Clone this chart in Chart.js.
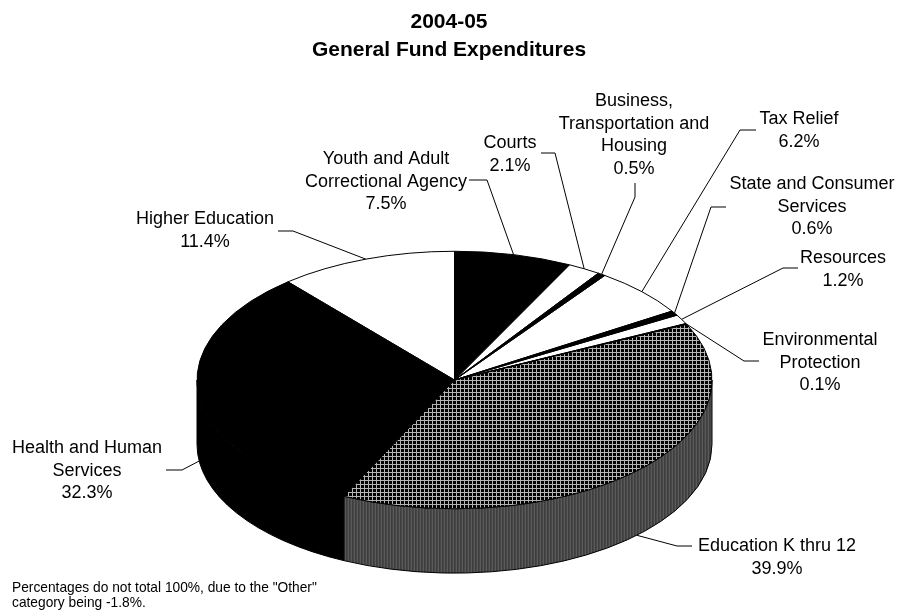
<!DOCTYPE html>
<html>
<head>
<meta charset="utf-8">
<title>2004-05 General Fund Expenditures</title>
<script src="https://cdn.jsdelivr.net/npm/chart.js@4.4.1/dist/chart.umd.min.js"></script>
<style>
  html, body { margin: 0; padding: 0; background: #ffffff; }
  canvas { display: block; }
</style>
</head>
<body>
<canvas id="expenditureChart" width="898" height="612"></canvas>
<script>
const titleLines = ['2004-05', 'General Fund Expenditures'];

const categories = [
    'Youth and Adult\nCorrectional Agency',
    'Courts',
    'Business,\nTransportation and\nHousing',
    'Tax Relief',
    'State and Consumer\nServices',
    'Resources',
    'Environmental\nProtection',
    'Education K thru 12',
    'Health and Human\nServices',
    'Higher Education'
];
const shares = [7.5, 2.1, 0.5, 6.2, 0.6, 1.2, 0.1, 39.9, 32.3, 11.4];
const otherShare = -1.8;

const footnote = [
    'Percentages do not total 100%, due to the "Other"',
    'category being ' + otherShare.toFixed(1) + '%.'
];

// where each label sits: text centre x, first baseline, then leader start and elbow
const labelSpots = [
    { x: 386, y: 164, from: [469, 180], elbow: [487, 180] },
    { x: 510, y: 148, from: [541, 153], elbow: [555, 153] },
    { x: 634, y: 106, from: [635, 183], elbow: [635, 197] },
    { x: 799, y: 124, from: [756, 130], elbow: [740, 130] },
    { x: 812, y: 189, from: [726, 207], elbow: [711, 207] },
    { x: 843, y: 263, from: [798, 268], elbow: [783, 268] },
    { x: 820, y: 345, from: [759, 361], elbow: [744, 361] },
    { x: 777, y: 551, from: [692, 546], elbow: [677, 546] },
    { x: 87, y: 453, from: [166, 470], elbow: [182, 470] },
    { x: 205, y: 224, from: [278, 231], elbow: [293, 231] }
];

const FONT = '"Liberation Sans", Arial, sans-serif';
const TILT = 0.5;          // vertical squash of the pie top
const DEPTH = 0.25;        // wall height as a share of the radius
const LINE = 22.5;

function makePattern(w, h, paint) {
    const tile = document.createElement('canvas');
    tile.width = w;
    tile.height = h;
    paint(tile.getContext('2d'));
    return tile.getContext('2d').createPattern(tile, 'repeat');
}

// crosshatch for the K-12 top, vertical stripes for its wall
const hatch = makePattern(4, 4, g => {
    g.fillStyle = '#000000';
    g.fillRect(0, 0, 4, 4);
    g.fillStyle = '#b4b4b4';
    g.fillRect(0, 0, 4, 1);
    g.fillRect(0, 0, 1, 4);
});
const stripes = makePattern(3, 1, g => {
    g.fillStyle = '#5a5a5a'; g.fillRect(0, 0, 1, 1);
    g.fillStyle = '#3e3e3e'; g.fillRect(1, 0, 1, 1);
    g.fillStyle = '#474747'; g.fillRect(2, 0, 1, 1);
});

const sliceFill = ['#000000', '#ffffff', '#000000', '#ffffff', '#000000',
    '#ffffff', '#000000', hatch, '#000000', '#ffffff'];
const wallFill = sliceFill.map(f => f === hatch ? stripes : f);

function pieGeometry(chart) {
    const arcs = chart.getDatasetMeta(0).data;
    const { x, y, outerRadius } = arcs[0].getProps(['x', 'y', 'outerRadius'], true);
    return { arcs, cx: x, cy: y, rx: outerRadius, ry: outerRadius * TILT, depth: outerRadius * DEPTH };
}

const pie3d = {
    id: 'pie3d',
    beforeDatasetsDraw(chart) {
        const ctx = chart.ctx;
        const { arcs, cx, cy, rx, ry, depth } = pieGeometry(chart);

        // front walls, only the part facing the viewer (0..PI)
        ctx.save();
        ctx.lineWidth = 1;
        ctx.strokeStyle = '#000000';
        arcs.forEach((arc, i) => {
            const { startAngle, endAngle } = arc.getProps(['startAngle', 'endAngle'], true);
            const a = Math.max(startAngle, 0);
            const b = Math.min(endAngle, Math.PI);
            if (a >= b) return;
            ctx.beginPath();
            ctx.ellipse(cx, cy, rx, ry, 0, a, b);
            ctx.ellipse(cx, cy + depth, rx, ry, 0, b, a, true);
            ctx.closePath();
            ctx.fillStyle = wallFill[i];
            ctx.fill();
            ctx.stroke();
        });
        ctx.restore();

        // squash the library's own arcs into the tilted top
        ctx.save();
        ctx.translate(cx, cy);
        ctx.scale(1, TILT);
        ctx.translate(-cx, -cy);
        hatch.setTransform(ctx.getTransform().invertSelf());
    },
    afterDatasetsDraw(chart) {
        const ctx = chart.ctx;
        ctx.restore();
        const { arcs, cx, cy, rx, ry } = pieGeometry(chart);
        ctx.save();
        ctx.lineWidth = 1;
        ctx.strokeStyle = '#000000';
        ctx.lineJoin = 'round';
        arcs.forEach(arc => {
            const { startAngle, endAngle } = arc.getProps(['startAngle', 'endAngle'], true);
            ctx.beginPath();
            ctx.moveTo(cx, cy);
            ctx.ellipse(cx, cy, rx, ry, 0, startAngle, endAngle);
            ctx.closePath();
            ctx.stroke();
        });
        ctx.restore();
    }
};

const sliceLabels = {
    id: 'sliceLabels',
    afterDraw(chart) {
        const ctx = chart.ctx;
        const { arcs, cx, cy, rx, ry, depth } = pieGeometry(chart);
        ctx.save();
        ctx.fillStyle = '#000000';
        ctx.strokeStyle = '#000000';
        ctx.lineWidth = 1;
        ctx.textAlign = 'center';
        ctx.textBaseline = 'alphabetic';

        ctx.font = 'bold 21px ' + FONT;
        ctx.fillText(titleLines[0], 449, 28);
        ctx.fillText(titleLines[1], 449, 56);

        ctx.font = '18px ' + FONT;
        arcs.forEach((arc, i) => {
            const { startAngle, endAngle } = arc.getProps(['startAngle', 'endAngle'], true);
            const mid = (startAngle + endAngle) / 2;
            const ax = cx + rx * Math.cos(mid);
            const ay = cy + ry * Math.sin(mid) + (Math.sin(mid) > 0 ? depth : 0);
            const spot = labelSpots[i];

            ctx.beginPath();
            ctx.moveTo(spot.from[0], spot.from[1]);
            ctx.lineTo(spot.elbow[0], spot.elbow[1]);
            ctx.lineTo(ax, ay);
            ctx.stroke();

            const lines = categories[i].split('\n').concat(shares[i].toFixed(1) + '%');
            lines.forEach((t, k) => ctx.fillText(t, spot.x, spot.y + k * LINE));
        });

        ctx.font = '13.75px ' + FONT;
        ctx.textAlign = 'left';
        footnote.forEach((t, k) => ctx.fillText(t, 12, 592 + k * 15));
        ctx.restore();
    }
};

new Chart(document.getElementById('expenditureChart'), {
    type: 'pie',
    data: {
        labels: categories,
        datasets: [{
            data: shares,
            backgroundColor: sliceFill,
            borderWidth: 0,
            hoverOffset: 0,
            clip: false
        }]
    },
    options: {
        responsive: false,
        animation: false,
        events: [],
        radius: 257.5,
        layout: { padding: { top: 149, left: 11, right: 0, bottom: 1 } },
        plugins: {
            legend: { display: false },
            tooltip: { enabled: false },
            title: { display: false }
        }
    },
    plugins: [pie3d, sliceLabels]
});
</script>
</body>
</html>
